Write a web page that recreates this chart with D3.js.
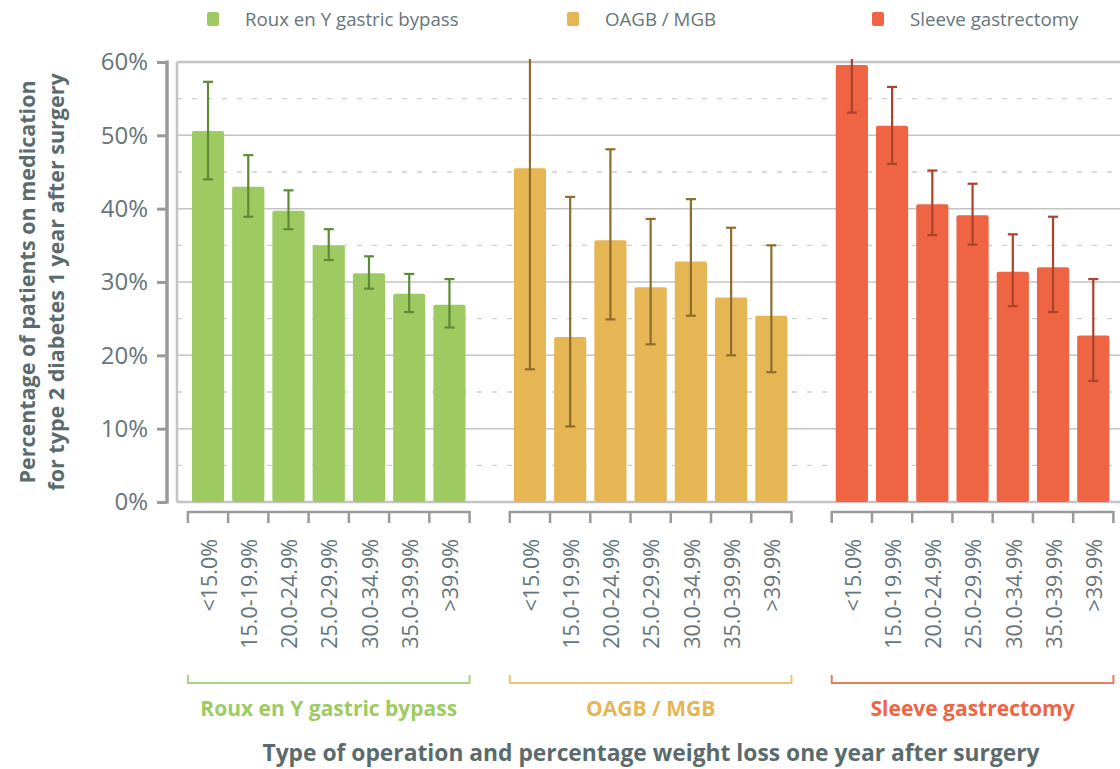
<!DOCTYPE html>
<html>
<head>
<meta charset="utf-8">
<script src="https://cdn.jsdelivr.net/npm/d3@7"></script>
<style>
  html, body { margin: 0; padding: 0; background: #ffffff; }
  svg { display: block; }
  text { font-family: "Open Sans", "Noto Sans", sans-serif; }
</style>
</head>
<body>
<svg id="chart" width="1120" height="769"></svg>
<script>
// ---- Data ----
const groups = ["Roux en Y gastric bypass", "OAGB / MGB", "Sleeve gastrectomy"];
const categories = ["<15.0%", "15.0-19.9%", "20.0-24.9%", "25.0-29.9%", "30.0-34.9%", "35.0-39.9%", ">39.9%"];
const rygbValues = [50.6, 43.0, 39.7, 35.0, 31.2, 28.4, 26.9];
const rygbLow    = [44.0, 38.9, 37.2, 33.0, 29.1, 25.9, 23.8];
const rygbHigh   = [57.3, 47.3, 42.5, 37.2, 33.5, 31.1, 30.4];
const oagbValues = [45.5, 22.5, 35.7, 29.3, 32.8, 27.9, 25.4];
const oagbLow    = [18.1, 10.3, 24.9, 21.5, 25.4, 20.0, 17.7];
const oagbHigh   = [72.9, 41.6, 48.1, 38.6, 41.3, 37.4, 35.0];
const sleeveValues = [59.6, 51.3, 40.6, 39.1, 31.4, 32.0, 22.7];
const sleeveLow    = [53.1, 46.1, 36.4, 35.1, 26.7, 25.9, 16.5];
const sleeveHigh   = [66.1, 56.6, 45.2, 43.4, 36.5, 38.9, 30.4];
const yTicks = [0, 10, 20, 30, 40, 50, 60];
const yMinorTicks = [5, 15, 25, 35, 45, 55];
const yTitleLines = ["Percentage of patients on medication", "for type 2 diabetes 1 year after surgery"];
const xTitle = "Type of operation and percentage weight loss one year after surgery";

// ---- Styles ----
const barColors = ["#9dcb61", "#e6b655", "#ef6544"];
const errColors = ["#5e8a36", "#8d6d2c", "#a9432a"];
const bracketColors = ["#a8d47a", "#ebc474", "#f07a5c"];
const textColor = "#5b6b6d";

const seriesTable = groups.map((g, gi) => ({
  group: g,
  values: [rygbValues, oagbValues, sleeveValues][gi],
  low: [rygbLow, oagbLow, sleeveLow][gi],
  high: [rygbHigh, oagbHigh, sleeveHigh][gi]
}));

// slot keys: 7 cats per group, one spacer between groups
const keys = [];
groups.forEach((g, gi) => {
  categories.forEach(c => keys.push(g + "|" + c));
  if (gi < groups.length - 1) keys.push("gap" + gi);
});

const svg = d3.select("#chart");

const x = d3.scaleBand().domain(keys).range([187.9, 1113.4]).paddingInner(0.2).paddingOuter(0.1);
const y = d3.scaleLinear().domain([0, 60]).range([502, 62]);

const frameLeft = 177, frameRight = 1120;

// grid
const grid = svg.append("g");
grid.selectAll("line.minor").data(yMinorTicks).join("line")
  .attr("x1", frameLeft).attr("x2", frameRight)
  .attr("y1", d => y(d)).attr("y2", d => y(d))
  .attr("stroke", "#cfcfcf").attr("stroke-width", 1.3).attr("stroke-dasharray", "5,10");
grid.selectAll("line.major").data(yTicks).join("line")
  .attr("x1", frameLeft).attr("x2", frameRight)
  .attr("y1", d => y(d)).attr("y2", d => y(d))
  .attr("stroke", "#c4c4c4").attr("stroke-width", d => (d === 0 || d === 60) ? 2.5 : 1.5);
grid.append("line").attr("x1", frameLeft).attr("x2", frameLeft)
  .attr("y1", y(60)).attr("y2", y(0)).attr("stroke", "#c4c4c4").attr("stroke-width", 2.5);

// y axis
const yAxisX = 167;
const yAxis = svg.append("g").attr("transform", `translate(${yAxisX},0)`)
  .call(d3.axisLeft(y).tickValues(yTicks).tickSize(10).tickPadding(9).tickFormat(d => d + "%"));
yAxis.select(".domain").attr("stroke", "#9a9a9a").attr("stroke-width", 3.5)
  .attr("d", `M0,${y(60) - 1.5}V${y(0) + 1.5}`);
yAxis.selectAll(".tick line").attr("stroke", "#9a9a9a").attr("stroke-width", 3);
yAxis.selectAll(".tick text").attr("fill", "#65757a").style("font-size", "24px")
  .style("font-family", '"Open Sans", sans-serif');

// bars
const clip = svg.append("defs").append("clipPath").attr("id", "plotclip")
  .append("rect").attr("x", 0).attr("y", 59).attr("width", 1120).attr("height", 500);

const bars = svg.append("g");
seriesTable.forEach((s, gi) => {
  const data = categories.map((c, i) => ({ key: s.group + "|" + c, v: s.values[i], lo: s.low[i], hi: s.high[i] }));
  bars.selectAll("rect.b" + gi).data(data).join("rect")
    .attr("x", d => x(d.key)).attr("width", x.bandwidth())
    .attr("y", d => y(d.v)).attr("height", d => y(0) - y(d.v))
    .attr("rx", 2).attr("fill", barColors[gi]);
  const eg = svg.append("g").attr("clip-path", "url(#plotclip)");
  const cx = d => x(d.key) + x.bandwidth() / 2;
  eg.selectAll("line.v").data(data).join("line")
    .attr("x1", cx).attr("x2", cx).attr("y1", d => y(d.hi)).attr("y2", d => y(d.lo))
    .attr("stroke", errColors[gi]).attr("stroke-width", 2.2);
  eg.selectAll("line.t").data(data).join("line")
    .attr("x1", d => cx(d) - 5).attr("x2", d => cx(d) + 5).attr("y1", d => y(d.hi)).attr("y2", d => y(d.hi))
    .attr("stroke", errColors[gi]).attr("stroke-width", 2.2);
  eg.selectAll("line.l").data(data).join("line")
    .attr("x1", d => cx(d) - 5).attr("x2", d => cx(d) + 5).attr("y1", d => y(d.lo)).attr("y2", d => y(d.lo))
    .attr("stroke", errColors[gi]).attr("stroke-width", 2.2);
});

// category brackets and labels
const step = x.step();
const bTop = 512, bBot = 523;
groups.forEach((g, gi) => {
  const ks = categories.map(c => g + "|" + c);
  const centers = ks.map(k => x(k) + x.bandwidth() / 2);
  const left = centers[0] - step / 2, right = centers[centers.length - 1] + step / 2;
  const gg = svg.append("g");
  gg.append("line").attr("x1", left).attr("x2", right).attr("y1", bTop).attr("y2", bTop)
    .attr("stroke", "#9a9a9a").attr("stroke-width", 2.5);
  const bounds = centers.map(c => c - step / 2).concat([right]);
  gg.selectAll("line.tk").data(bounds).join("line")
    .attr("x1", d => d).attr("x2", d => d).attr("y1", bTop - 1).attr("y2", bBot)
    .attr("stroke", "#9a9a9a").attr("stroke-width", 2.5);
  gg.selectAll("text").data(categories).join("text")
    .attr("transform", (c, i) => `translate(${centers[i] + 1},539) rotate(-90)`)
    .attr("text-anchor", "end").attr("dy", "0.36em")
    .attr("fill", "#65757a").style("font-size", "21.5px").text(c => c);
  // group bracket
  const gy = 683;
  gg.append("path").attr("d", `M${left},${gy - 8}V${gy}H${right}V${gy - 8}`)
    .attr("fill", "none").attr("stroke", bracketColors[gi]).attr("stroke-width", 2);
  gg.append("text").attr("x", (left + right) / 2).attr("y", 716).attr("text-anchor", "middle")
    .attr("fill", barColors[gi]).style("font-size", "21px").style("font-weight", "bold").text(g);
});

// legend
const legendX = [207, 567, 872];
const leg = svg.append("g");
groups.forEach((g, gi) => {
  leg.append("rect").attr("x", legendX[gi]).attr("y", 12).attr("width", 12).attr("height", 14)
    .attr("rx", 2).attr("fill", barColors[gi]);
  leg.append("text").attr("x", legendX[gi] + 38).attr("y", 26)
    .attr("fill", "#65757a").style("font-size", "18.7px").text(g);
});

// axis titles
const yt = svg.append("text").attr("transform", "translate(0,282) rotate(-90)")
  .attr("text-anchor", "middle").attr("fill", textColor)
  .style("font-size", "21.5px").style("font-weight", "bold");
yt.selectAll("tspan").data(yTitleLines).join("tspan")
  .attr("x", 0).attr("y", (d, i) => 35 + i * 29).text(d => d);

svg.append("text").attr("x", 651).attr("y", 761).attr("text-anchor", "middle")
  .attr("fill", textColor).style("font-size", "22.8px").style("font-weight", "bold").text(xTitle);
</script>
</body>
</html>
